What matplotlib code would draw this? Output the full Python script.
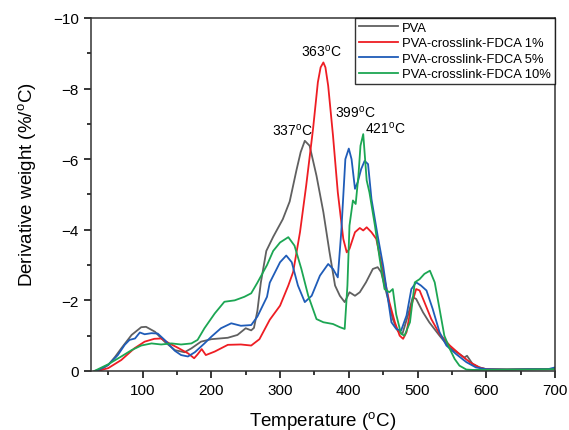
import matplotlib
matplotlib.use("Agg")
import matplotlib.pyplot as plt
from matplotlib.ticker import MultipleLocator

plt.rcParams['font.family'] = ['Liberation Sans', 'DejaVu Sans']
plt.rcParams['mathtext.default'] = 'regular'

# DTG curves (temperature in C, derivative weight in %/C)
pva_t = [30, 40, 50, 60, 69, 84, 98, 105, 118, 132, 147, 161, 171, 185, 200, 224, 238, 250, 258, 262,
         267, 272, 280, 290, 304, 314, 324, 330, 336, 343, 353, 363, 372, 380, 387, 394, 401, 409, 416,
         425, 435, 442, 447, 452, 457, 464, 471, 478, 486, 493, 498, 508, 517, 532, 546, 561, 568, 572,
         580, 590, 600, 630, 660, 700]
pva_d = [0, -0.05, -0.17, -0.4, -0.64, -1.02, -1.24, -1.25, -1.11, -0.83, -0.59, -0.53, -0.64, -0.83,
         -0.9, -0.94, -1.02, -1.21, -1.15, -1.22, -1.7, -2.5, -3.4, -3.8, -4.3, -4.8, -5.7, -6.2, -6.52,
         -6.38, -5.53, -4.5, -3.36, -2.42, -2.13, -1.95, -2.23, -2.13, -2.23, -2.51, -2.89, -2.94, -2.8,
         -2.42, -2.04, -1.47, -1.14, -1.05, -1.57, -2.09, -2.04, -1.66, -1.38, -1.0, -0.67, -0.48, -0.38,
         -0.43, -0.2, -0.1, -0.05, -0.04, -0.05, -0.06]

f1_t = [35, 50, 69, 88, 103, 117, 127, 139, 151, 166, 175, 180, 186, 192, 205, 224, 243, 258, 270,
        285, 300, 312, 319, 329, 338, 348, 355, 359, 363, 366, 370, 377, 384, 392, 397, 401, 409, 416,
        421, 426, 433, 440, 445, 452, 459, 467, 474, 479, 484, 491, 498, 503, 510, 520, 532, 547, 561,
        576, 590, 600, 630, 660, 700]
f1_d = [0, -0.08, -0.31, -0.64, -0.83, -0.91, -0.92, -0.78, -0.66, -0.5, -0.36, -0.47, -0.62, -0.45,
        -0.55, -0.74, -0.75, -0.72, -0.9, -1.45, -1.85, -2.42, -2.8, -3.93, -5.25, -6.86, -8.18, -8.6,
        -8.74, -8.6, -8.08, -6.67, -5.06, -3.74, -3.36, -3.46, -3.93, -4.05, -3.98, -4.07, -3.93, -3.74,
        -3.27, -2.6, -1.95, -1.38, -1.0, -0.91, -1.1, -1.85, -2.32, -2.28, -1.95, -1.47, -1.05, -0.72,
        -0.48, -0.25, -0.1, -0.05, -0.04, -0.05, -0.05]

f5_t = [33, 50, 64, 74, 81, 89, 96, 103, 113, 122, 132, 147, 156, 166, 176, 190, 200, 214, 229, 243,
        258, 267, 281, 285, 300, 309, 317, 326, 336, 346, 358, 370, 377, 384, 389, 395, 400, 404, 409,
        413, 418, 423, 428, 433, 442, 450, 457, 462, 469, 476, 484, 491, 498, 505, 513, 522, 532, 542,
        556, 571, 585, 600, 630, 660, 690, 700]
f5_d = [0, -0.17, -0.45, -0.74, -0.88, -0.92, -1.09, -1.04, -1.07, -1.06, -0.88, -0.57, -0.45, -0.41,
        -0.53, -0.78, -0.97, -1.21, -1.35, -1.28, -1.3, -1.54, -2.1, -2.5, -3.08, -3.27, -3.08, -2.42,
        -1.95, -2.13, -2.7, -3.03, -2.89, -2.65, -3.93, -6.0, -6.3, -6.0, -5.16, -5.35, -5.72, -5.95,
        -5.86, -4.87, -3.83, -2.98, -2.04, -1.38, -1.19, -1.14, -1.57, -2.32, -2.51, -2.42, -2.28, -1.76,
        -1.1, -0.72, -0.48, -0.25, -0.1, -0.05, -0.04, -0.05, -0.05, -0.1]

f10_t = [30, 50, 69, 84, 98, 113, 127, 142, 156, 171, 180, 190, 205, 219, 234, 248, 258, 267, 281,
         290, 300, 312, 321, 331, 341, 353, 363, 377, 387, 394, 398, 401, 406, 410, 414, 417, 421, 426,
         430, 438, 445, 452, 459, 464, 469, 476, 481, 489, 496, 503, 510, 518, 525, 532, 539, 547, 554,
         561, 571, 580, 600, 630, 660, 700]
f10_d = [0, -0.19, -0.41, -0.59, -0.72, -0.78, -0.75, -0.78, -0.75, -0.78, -0.88, -1.21, -1.63, -1.96,
         -2.0, -2.1, -2.2, -2.5, -3.0, -3.4, -3.64, -3.79, -3.55, -2.89, -2.13, -1.47, -1.38, -1.33,
         -1.24, -1.19, -2.42, -4.12, -4.83, -4.73, -5.53, -6.38, -6.71, -5.4, -5.06, -4.12, -3.17,
         -2.32, -2.23, -2.32, -1.6, -1.05, -1.0, -1.38, -2.51, -2.6, -2.75, -2.84, -2.51, -1.76, -1.0,
         -0.62, -0.34, -0.15, -0.04, -0.03, -0.03, -0.04, -0.04, -0.05]

labels = ['PVA', 'PVA-crosslink-FDCA 1%', 'PVA-crosslink-FDCA 5%', 'PVA-crosslink-FDCA 10%']
colors = ['#606060', '#ee1d23', '#1f5cb8', '#1ca653']

# peak annotations: (text, x, y)
peaks = [('363$^{o}$C', 360.6, -9.07), ('337$^{o}$C', 317.7, -6.83),
         ('399$^{o}$C', 410, -7.35), ('421$^{o}$C', 452.6, -6.88)]

fig, ax = plt.subplots(figsize=(5.69, 4.31), dpi=100)
fig.subplots_adjust(left=0.16, right=0.9754, bottom=0.137, top=0.956)

series = [(pva_t, pva_d), (f1_t, f1_d), (f5_t, f5_d), (f10_t, f10_d)]
for (t, d), lab, c in zip(series, labels, colors):
    ax.plot(t, d, color=c, lw=1.3, label=lab)

for txt, x, y in peaks:
    ax.text(x, y, txt, fontsize=10, ha='center', va='center')

ax.set_xlim(25, 700)
ax.set_ylim(0, -10)
ax.xaxis.set_major_locator(MultipleLocator(100))
ax.xaxis.set_minor_locator(MultipleLocator(50))
ax.yaxis.set_major_locator(MultipleLocator(2))
ax.yaxis.set_minor_locator(MultipleLocator(1))
ax.tick_params(which='major', length=4.8, width=1.1, labelsize=11, pad=4)
ax.tick_params(which='minor', length=2.6, width=1.1)
for s in ax.spines.values():
    s.set_linewidth(1.1)
    s.set_color('#333333')

ax.set_xlabel('Temperature ($^{o}$C)', fontsize=13.5)
ax.set_ylabel('Derivative weight (%/$^{o}$C)', fontsize=13.5)
ax.xaxis.set_label_coords(0.5, -0.108)
ax.yaxis.set_label_coords(-0.115, 0.531)

leg = ax.legend(loc='upper right', fontsize=9.4, frameon=True, fancybox=False,
                borderaxespad=0, handlelength=3.0, handletextpad=0.3,
                labelspacing=0.25, borderpad=0.3)
leg.get_frame().set_edgecolor('black')
leg.get_frame().set_linewidth(1.0)

fig.savefig('out.png', dpi=100)
